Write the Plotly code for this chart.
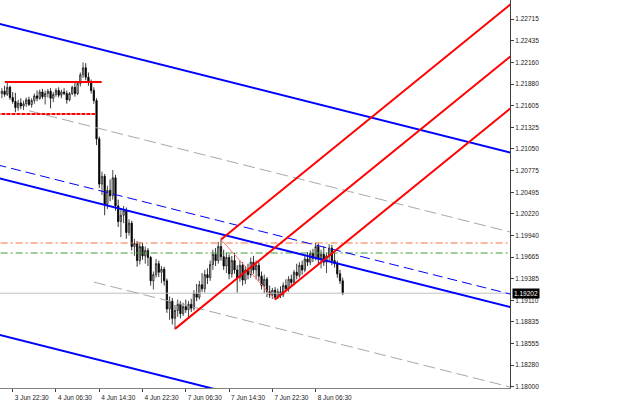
import plotly.graph_objects as go

# ---------------- data (EURUSD M30, bars numbered from 3 Jun 22:30 = 0) ----------------
bar_index = list(range(-4, 123))

open_ = [
    1.2176, 1.2179, 1.2175, 1.2184, 1.2171, 1.2166, 1.2158, 1.2164, 1.2160, 1.2163,
    1.2168, 1.2162, 1.2167, 1.2173, 1.2170, 1.2178, 1.2172, 1.2176, 1.2179, 1.2170,
    1.2175, 1.2180, 1.2174, 1.2178, 1.2176, 1.2168, 1.2176, 1.2184, 1.2176, 1.2189,
    1.2200, 1.2209, 1.2197, 1.2190, 1.2180, 1.2167, 1.2118, 1.2060, 1.2070, 1.2034,
    1.2052, 1.2045, 1.2068, 1.2032, 1.2012, 1.2020, 1.2026, 1.1998, 1.2010, 1.1980,
    1.1984, 1.1962, 1.1980, 1.1968, 1.1975, 1.1966, 1.1936, 1.1944, 1.1958, 1.1947,
    1.1951, 1.1936, 1.1900, 1.1910, 1.1888, 1.1898, 1.1906, 1.1894, 1.1903, 1.1899,
    1.1906, 1.1901, 1.1920, 1.1915, 1.1931, 1.1926, 1.1944, 1.1940, 1.1957, 1.1970,
    1.1962, 1.1980, 1.1967, 1.1955, 1.1966, 1.1945, 1.1962, 1.1950, 1.1940, 1.1956,
    1.1937, 1.1950, 1.1944, 1.1960, 1.1950, 1.1956, 1.1942, 1.1930, 1.1938, 1.1922,
    1.1918, 1.1924, 1.1915, 1.1922, 1.1918, 1.1930, 1.1926, 1.1938, 1.1934, 1.1947,
    1.1943, 1.1956, 1.1950, 1.1964, 1.1960, 1.1971, 1.1965, 1.1980, 1.1964, 1.1970,
    1.1960, 1.1968, 1.1978, 1.1962, 1.1958, 1.1945, 1.1936,
]
high = [
    1.2183, 1.2186, 1.2190, 1.2186, 1.2178, 1.2177, 1.2168, 1.2170, 1.2167, 1.2171,
    1.2172, 1.2170, 1.2176, 1.2180, 1.2181, 1.2182, 1.2180, 1.2182, 1.2183, 1.2178,
    1.2183, 1.2184, 1.2181, 1.2183, 1.2180, 1.2178, 1.2186, 1.2190, 1.2192, 1.2203,
    1.2216, 1.2215, 1.2203, 1.2194, 1.2184, 1.2170, 1.2121, 1.2076, 1.2073, 1.2058,
    1.2066, 1.2078, 1.2072, 1.2040, 1.2028, 1.2032, 1.2030, 1.2015, 1.2013, 1.1990,
    1.1987, 1.1986, 1.1985, 1.1980, 1.1978, 1.1968, 1.1948, 1.1964, 1.1962, 1.1955,
    1.1954, 1.1939, 1.1916, 1.1914, 1.1905, 1.1912, 1.1910, 1.1908, 1.1912, 1.1910,
    1.1913, 1.1924, 1.1932, 1.1936, 1.1946, 1.1950, 1.1952, 1.1962, 1.1976, 1.1978,
    1.1986, 1.1989, 1.1976, 1.1972, 1.1970, 1.1968, 1.1972, 1.1956, 1.1962, 1.1960,
    1.1955, 1.1958, 1.1966, 1.1968, 1.1962, 1.1960, 1.1948, 1.1944, 1.1941, 1.1930,
    1.1927, 1.1928, 1.1926, 1.1929, 1.1934, 1.1938, 1.1942, 1.1944, 1.1950, 1.1958,
    1.1960, 1.1962, 1.1968, 1.1973, 1.1975, 1.1977, 1.1985, 1.1984, 1.1976, 1.1980,
    1.1972, 1.1983, 1.1982, 1.1972, 1.1962, 1.1950, 1.1940,
]
low = [
    1.2170, 1.2172, 1.2173, 1.2168, 1.2163, 1.2152, 1.2154, 1.2156, 1.2155, 1.2159,
    1.2160, 1.2158, 1.2163, 1.2166, 1.2168, 1.2169, 1.2162, 1.2171, 1.2157, 1.2165,
    1.2172, 1.2171, 1.2170, 1.2174, 1.2163, 1.2166, 1.2174, 1.2172, 1.2174, 1.2185,
    1.2196, 1.2193, 1.2186, 1.2176, 1.2163, 1.2110, 1.2055, 1.2046, 1.2020, 1.2028,
    1.2038, 1.2040, 1.2026, 1.2005, 1.1992, 1.2010, 1.1990, 1.1994, 1.1975, 1.1968,
    1.1954, 1.1957, 1.1963, 1.1958, 1.1955, 1.1930, 1.1925, 1.1940, 1.1941, 1.1933,
    1.1930, 1.1895, 1.1886, 1.1880, 1.18745, 1.1890, 1.1888, 1.1891, 1.1895, 1.1888,
    1.1896, 1.1898, 1.1910, 1.1912, 1.1922, 1.1921, 1.1932, 1.1936, 1.1950, 1.1955,
    1.1958, 1.1962, 1.1950, 1.1946, 1.1938, 1.1940, 1.1945, 1.1921, 1.1935, 1.1930,
    1.1932, 1.1938, 1.1940, 1.1945, 1.1938, 1.1936, 1.1925, 1.1920, 1.1915, 1.1914,
    1.1913, 1.1912, 1.1913, 1.1914, 1.1915, 1.1922, 1.1922, 1.1928, 1.1930, 1.1938,
    1.1940, 1.1944, 1.1947, 1.1955, 1.1956, 1.1960, 1.1962, 1.1958, 1.1952, 1.1955,
    1.1946, 1.1962, 1.1956, 1.1953, 1.1940, 1.1932, 1.1918,
]
close = [
    1.2179, 1.2175, 1.2184, 1.2171, 1.2166, 1.2158, 1.2164, 1.2160, 1.2163, 1.2168,
    1.2162, 1.2167, 1.2173, 1.2170, 1.2178, 1.2172, 1.2176, 1.2179, 1.2170, 1.2175,
    1.2180, 1.2174, 1.2178, 1.2176, 1.2168, 1.2176, 1.2184, 1.2176, 1.2189, 1.2200,
    1.2209, 1.2197, 1.2190, 1.2180, 1.2167, 1.2118, 1.2060, 1.2070, 1.2034, 1.2052,
    1.2045, 1.2068, 1.2032, 1.2012, 1.2020, 1.2026, 1.1998, 1.2010, 1.1980, 1.1984,
    1.1962, 1.1980, 1.1968, 1.1975, 1.1966, 1.1936, 1.1944, 1.1958, 1.1947, 1.1951,
    1.1936, 1.1900, 1.1910, 1.1888, 1.1898, 1.1906, 1.1894, 1.1903, 1.1899, 1.1906,
    1.1901, 1.1920, 1.1915, 1.1931, 1.1926, 1.1944, 1.1940, 1.1957, 1.1970, 1.1962,
    1.1980, 1.1967, 1.1955, 1.1966, 1.1945, 1.1962, 1.1950, 1.1940, 1.1956, 1.1937,
    1.1950, 1.1944, 1.1960, 1.1950, 1.1956, 1.1942, 1.1930, 1.1938, 1.1922, 1.1918,
    1.1924, 1.1915, 1.1922, 1.1918, 1.1930, 1.1926, 1.1938, 1.1934, 1.1947, 1.1943,
    1.1956, 1.1950, 1.1964, 1.1960, 1.1971, 1.1965, 1.1980, 1.1964, 1.1970, 1.1960,
    1.1968, 1.1978, 1.1962, 1.1958, 1.1945, 1.1936, 1.19202,
]

tick_bars = [0, 16, 32, 48, 64, 80, 96, 112]
tick_text = ["3 Jun 22:30", "4 Jun 06:30", "4 Jun 14:30", "4 Jun 22:30",
             "7 Jun 06:30", "7 Jun 14:30", "7 Jun 22:30", "8 Jun 06:30"]

price_ticks = [1.18000, 1.18280, 1.18555, 1.18835, 1.19110, 1.19385, 1.19665,
               1.19940, 1.20220, 1.20495, 1.20775, 1.21050, 1.21325, 1.21605,
               1.21880, 1.22160, 1.22435, 1.22715]
price_labels = ["1.18000", "1.18280", "1.18555", "1.18835", "1.19110", "1.19385",
                "1.19665", "1.19940", "1.20220", "1.20495", "1.20775", "1.21050",
                "1.21325", "1.21605", "1.21880", "1.22160", "1.22435", "1.22715"]
bid_price = 1.19202

# parallel channel lines: anchor prices at bar 0 and bar 180, first bar drawn
chan_anchor_bars = [0, 180]
chan_p0 = [1.22611, 1.21592, 1.20797, 1.20631, 1.19606, 1.18626]
chan_p1 = [1.21038, 1.20020, 1.19225, 1.19059, 1.18034, 1.17052]
chan_start = [-6, 6, -6, -6, 30, -6]
chan_color = ["#0000ff", "#a8a8a8", "#0000ff", "#0000ff", "#a8a8a8", "#0000ff"]
chan_width = [2, 1, 1, 2, 1, 2]
chan_dash = ["solid", "12px,5px", "10px,5px", "solid", "12px,5px", "solid"]

# Andrews pitchfork pivots (low, high, low)
pf_bars = [60, 77, 97]
pf_prices = [1.18745, 1.1989, 1.1912]

# red horizontal range lines
red_price = [1.21908, 1.21498]
red_from = [-2.9, -6]
red_to = [32.9, 30.4]
red_dash = ["solid", "4px,1px"]

# dash-dot horizontal levels
level_price = [1.19845, 1.19717]
level_color = ["#f5703c", "#3c9a3c"]

X_RANGE = [-4.695, 183.85]
Y_RANGE = [1.17987, 1.22959]
EXT_END = 200

fig = go.Figure()

# bid line
fig.add_trace(go.Scatter(x=[-10, EXT_END], y=[bid_price, bid_price], mode="lines",
                         line=dict(color="#c0c0c0", width=1), hoverinfo="skip"))

# dash-dot levels
for p, c in zip(level_price, level_color):
    fig.add_trace(go.Scatter(x=[-10, EXT_END], y=[p, p], mode="lines",
                             line=dict(color=c, width=1, dash="7px,3px,2px,3px"),
                             hoverinfo="skip"))

fig.add_trace(go.Candlestick(
    x=bar_index, open=open_, high=high, low=low, close=close,
    increasing=dict(line=dict(color="#1a1a1a", width=0.8), fillcolor="#dcdcdc"),
    decreasing=dict(line=dict(color="#000000", width=0.8), fillcolor="#000000"),
    whiskerwidth=0, hoverinfo="skip"))

# channel lines
b0, b1 = chan_anchor_bars
for p0, p1, s, col, w, d in zip(chan_p0, chan_p1, chan_start, chan_color, chan_width, chan_dash):
    slope = (p1 - p0) / (b1 - b0)
    xs = [s, EXT_END]
    ys = [p0 + slope * (xx - b0) for xx in xs]
    fig.add_trace(go.Scatter(x=xs, y=ys, mode="lines",
                             line=dict(color=col, width=w, dash=d), hoverinfo="skip"))

# red horizontal lines
for p, a, b, d in zip(red_price, red_from, red_to, red_dash):
    fig.add_trace(go.Scatter(x=[a, b], y=[p, p], mode="lines",
                             line=dict(color="#ff0000", width=2, dash=d), hoverinfo="skip"))

# pitchfork
(ba, bb, bc), (pa, pb, pc) = pf_bars, pf_prices
mid_b, mid_p = (bb + bc) / 2, (pb + pc) / 2
pf_slope = (mid_p - pa) / (mid_b - ba)
fig.add_trace(go.Scatter(x=[bb, bc], y=[pb, pc], mode="lines",
                         line=dict(color="#ff7070", width=1), hoverinfo="skip"))
for sb, sp in zip(pf_bars, pf_prices):
    fig.add_trace(go.Scatter(x=[sb, EXT_END], y=[sp, sp + pf_slope * (EXT_END - sb)],
                             mode="lines", line=dict(color="#ff0000", width=2),
                             hoverinfo="skip"))

FONT = dict(family="Liberation Sans, Arial, sans-serif", size=6.5, color="#202020")

fig.update_layout(
    width=625, height=400,
    margin=dict(l=0, r=115, t=0, b=12),
    paper_bgcolor="#ffffff", plot_bgcolor="#ffffff",
    showlegend=False,
    font=FONT,
    xaxis=dict(range=X_RANGE, showgrid=False, zeroline=False,
               rangeslider=dict(visible=False),
               tickmode="array", tickvals=tick_bars, ticktext=tick_text,
               ticks="outside", ticklen=3, tickcolor="#404040", tickwidth=1,
               ticklabelshift=19, ticklabelstandoff=0,
               showline=True, linecolor="#808080", linewidth=1,
               tickfont=FONT),
    yaxis=dict(range=Y_RANGE, side="right", showgrid=False, zeroline=False,
               tickmode="array", tickvals=price_ticks, ticktext=price_labels,
               ticks="outside", ticklen=3, tickcolor="#404040", tickwidth=1,
               showline=True, linecolor="#404040", linewidth=1,
               tickfont=FONT),
    annotations=[dict(xref="paper", yref="y", x=1, y=bid_price, xanchor="left",
                      yanchor="middle", xshift=2, text=f"{bid_price:.5f}",
                      showarrow=False, bgcolor="#000000", borderpad=1,
                      font=dict(family=FONT["family"], size=6.5, color="#ffffff"))],
)

fig.write_html("out.html")
